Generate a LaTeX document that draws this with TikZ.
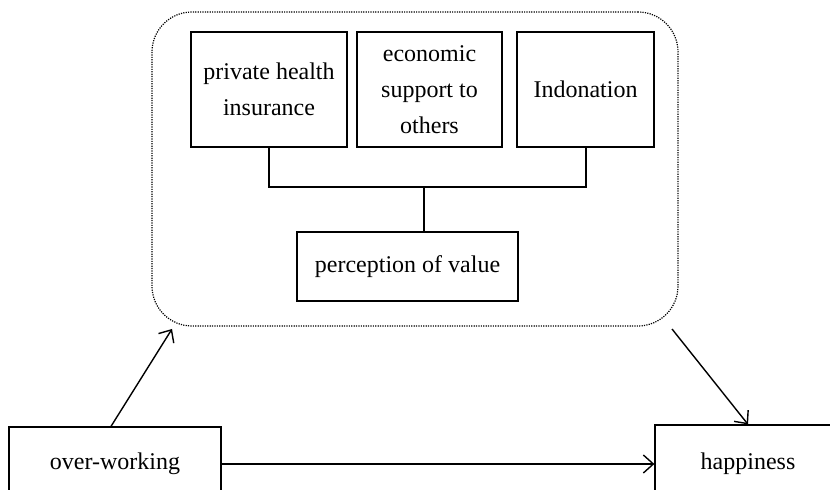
\documentclass[tikz,border=0pt]{standalone}
\usepackage{fontspec}
\setmainfont{Liberation Serif}
\usetikzlibrary{arrows.meta}

\begin{document}
\begin{tikzpicture}[x=0.5pt,y=-0.5pt]\tikzset{box/.style = {shape=rectangle, draw, line width=0.6pt, inner sep=1pt, align=center, font=\fontsize{12}{18}\selectfont}, group/.style = {shape=rectangle, draw, rounded corners=20pt, dash pattern=on 0.6pt off 0.6pt, line width=0.6pt}, link/.style = {line width=1pt}, pointer/.style = {line width=0.7pt, -{Straight Barb[length=5pt,width=9pt]}}}

		\useasboundingbox (0,0) rectangle (830,490);

		\node[group, minimum width=263pt, minimum height=157pt] (G) at (415,169) {};
		\node[box, minimum width=78pt, minimum height=57.5pt] (I) at (269,89.5) {private health\\insurance};
		\node[box, minimum width=72.5pt, minimum height=57.5pt] (E) at (429.5,89.5) {economic\\support to\\others};
		\node[box, minimum width=68.5pt, minimum height=57.5pt] (D) at (585.5,89.5) {Indonation};
		\node[box, minimum width=110.5pt, minimum height=34.5pt] (V) at (407.5,266.5) {perception of value};
		\node[box, minimum width=106pt, minimum height=37pt] (W) at (115,464) {over-working};
		\node[box, minimum width=93pt, minimum height=39pt] (H) at (748,464) {happiness};
		\coordinate (J) at (424,187);
		\coordinate (G_1) at (172,329);
		\coordinate (G_2) at (672,329);

		\draw[link] (I.south) |- (J) -| (D.south);
		\draw[link] (J) -- (J |- V.north);
		\draw[pointer] ([xshift=-2pt]W.north) -- (G_1);
		\draw[pointer] (G_2) -- (H.north);
		\draw[pointer] (W.east) -- (H.west);
	\end{tikzpicture}
\end{document}
